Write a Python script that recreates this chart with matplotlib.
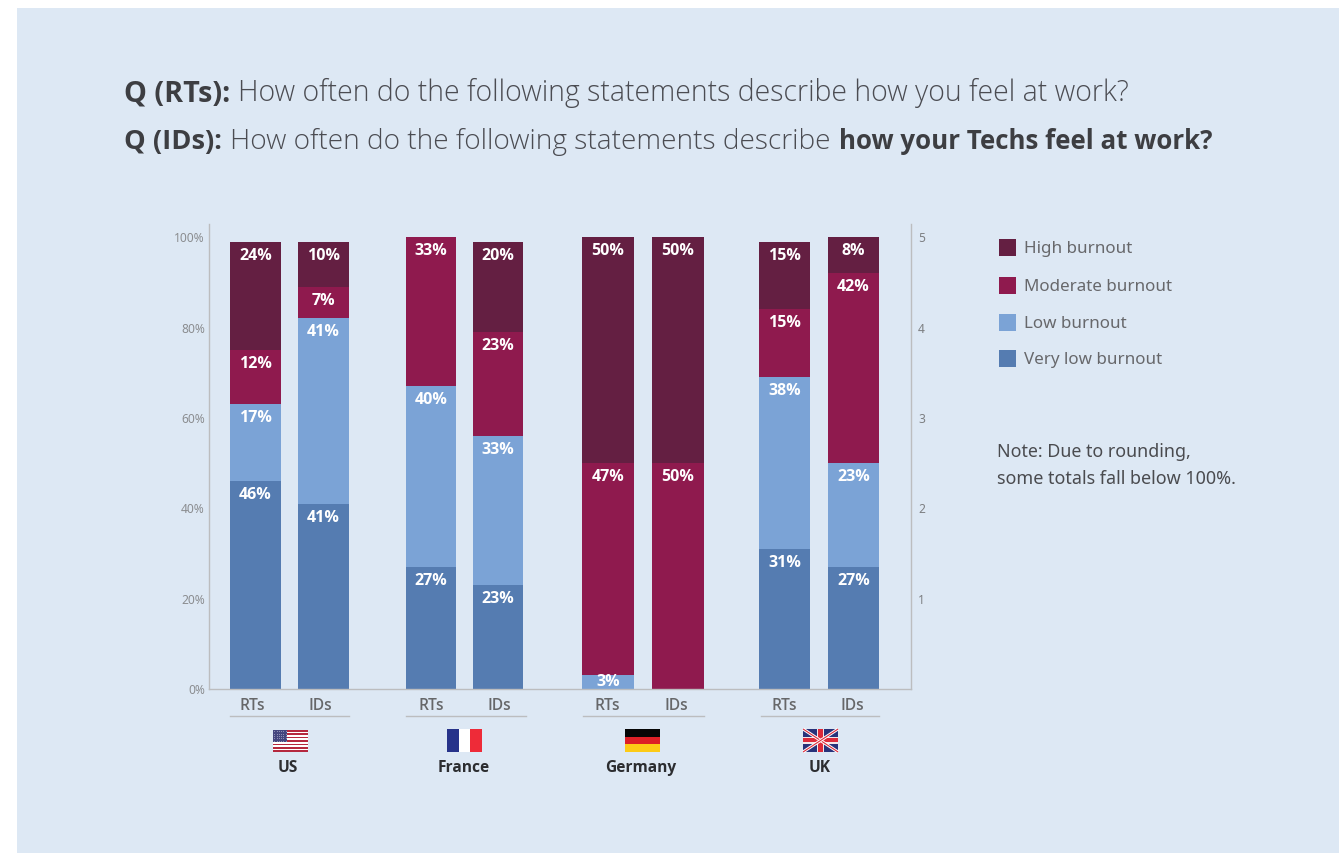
import matplotlib
matplotlib.use("Agg")
import matplotlib.pyplot as plt
from matplotlib.patches import Rectangle

# **********************************************************************
#       DATA
countries = ["US", "France", "Germany", "UK"]
respondents = ["RTs", "IDs"]
levels = ["Very low burnout", "Low burnout", "Moderate burnout", "High burnout"]

very_low_rts = [46, 27, 0, 31]
low_rts = [17, 40, 3, 38]
moderate_rts = [12, 33, 47, 15]
high_rts = [24, 0, 50, 15]

very_low_ids = [41, 23, 0, 27]
low_ids = [41, 33, 0, 23]
moderate_ids = [7, 23, 50, 42]
high_ids = [10, 20, 50, 8]

left_ticks = [0, 20, 40, 60, 80, 100]
right_ticks = [1, 2, 3, 4, 5]

# **********************************************************************
#       PLOTTING ATTRIBUTES
WIDTH, HEIGHT = 1339, 853
panel_color = "#dde8f4"
axis_color = "#bcbdbf"
level_colors = ["#557cb1", "#7ba3d6", "#8f1a4e", "#641f42"]

# bar centres and widths along the x axis, which runs in pixels
rts_x = [255.5, 431, 608, 784.5]
ids_x = [323.5, 498, 678, 853.5]
bar_w = [51, 50, 52, 51]
group_lines = [(230, 349), (406, 526), (583, 704), (761, 879)]
rts_label_x = [252, 431, 607, 784]
ids_label_x = [320, 499, 676, 852]
flag_x = [273, 447, 625, 803]
country_x = [288, 464, 641, 820]
legend_y = [247.5, 285.5, 322.5, 358.5]

font_title = "Open Sans"
font_text = "Noto Sans"


def px(size):
    # font size in points from a height in pixels at 100 dpi
    return size * 0.72


fig = plt.figure(figsize=((WIDTH + 0.1) / 100, (HEIGHT + 0.1) / 100), dpi=100, facecolor="white")

# full figure layer with y pointing down, for everything outside the plot
bg = fig.add_axes([0, 0, 1, 1])
bg.set_xlim(0, WIDTH)
bg.set_ylim(HEIGHT, 0)
bg.axis("off")
bg.add_patch(Rectangle((17, 8), WIDTH - 17, HEIGHT - 8, color=panel_color, lw=0))

ax = fig.add_axes([209 / WIDTH, (HEIGHT - 689) / HEIGHT, 702 / WIDTH, 465 / HEIGHT])
ax.patch.set_alpha(0)
ax.set_xlim(209, 911)
ax.set_ylim(0, 102.9)

ax.spines["top"].set_visible(False)
for spine in ["left", "right", "bottom"]:
    ax.spines[spine].set_color(axis_color)
    ax.spines[spine].set_linewidth(1.0)

ax.set_xticks([])
ax.set_yticks(left_ticks)
ax.set_yticklabels([str(t) + "%" for t in left_ticks], fontsize=px(12),
                   color="#8b8d90", family=font_text)
ax.tick_params(axis="y", length=0, pad=3)

ax2 = ax.twinx()
ax2.set_ylim(0, 102.9 / 20)
ax2.set_yticks(right_ticks)
ax2.set_yticklabels([str(t) for t in right_ticks], fontsize=px(12),
                    color="#7d7f82", family=font_text)
ax2.tick_params(axis="y", length=0, pad=5)
for spine in ax2.spines.values():
    spine.set_visible(False)


def draw_stack(xs, stacks):
    bottom = [0] * len(xs)
    for k, values in enumerate(stacks):
        ax.bar(xs, values, width=bar_w, bottom=bottom, color=level_colors[k], lw=0)
        for i, v in enumerate(values):
            if v == 0:
                continue
            # thin segments get the label centred, others hang below the top edge
            if v < 5:
                ax.text(xs[i], bottom[i] + v / 2, str(v) + "%", color="white",
                        fontsize=px(16), weight="bold", family=font_title,
                        ha="center", va="center")
            else:
                ax.annotate(str(v) + "%", (xs[i], bottom[i] + v), xytext=(0, -px(14)),
                            textcoords="offset points", color="white",
                            fontsize=px(16), weight="bold", family=font_title,
                            ha="center", va="center")
            bottom[i] += v


draw_stack(rts_x, [very_low_rts, low_rts, moderate_rts, high_rts])
draw_stack(ids_x, [very_low_ids, low_ids, moderate_ids, high_ids])

# **********************************************************************
#       TITLE, bold and light runs placed one after the other
dark = "#3d3e42"
light = "#4b4c52"
title_runs = [
    (124, 101, "Q (RTs):", "bold", 28.7, dark),
    (238, 101, "How often do the following statements describe how you feel at work?", "light", 28.5, light),
    (124, 149, "Q (IDs):", "bold", 27.3, dark),
    (230, 149, "How often do the following statements describe", "light", 28.05, light),
    (839, 149, "how your Techs feel at work?", "bold", 25.85, dark),
]
for x, y, string, weight, size, color in title_runs:
    bg.text(x, y, string, fontsize=px(size), family=font_title, weight=weight,
            color=color, ha="left", va="baseline")

# **********************************************************************
#       GROUP LABELS AND FLAGS
for i in range(len(countries)):
    bg.text(rts_label_x[i], 705.5, respondents[0], fontsize=px(15.5), color="#666769",
            weight="semibold", family=font_title, ha="center", va="center")
    bg.text(ids_label_x[i], 705.5, respondents[1], fontsize=px(15.5), color="#666769",
            weight="semibold", family=font_title, ha="center", va="center")
    bg.plot(group_lines[i], [716, 716], color=axis_color, lw=1.0)
    bg.text(country_x[i], 768, countries[i], fontsize=px(15.5), color="#2c2d30",
            weight="bold", family=font_title, ha="center", va="center")


def flag_us(x, y, w=35, h=22):
    bg.add_patch(Rectangle((x, y), w, h, color="white", lw=0))
    for s in range(0, 13, 2):
        bg.add_patch(Rectangle((x, y + s * h / 13), w, h / 13, color="#b5283e", lw=0))
    bg.add_patch(Rectangle((x, y), 14, 12, color="#44467f", lw=0))
    for r in range(5):
        for c in range(6):
            bg.plot(x + 1.2 + c * 2.3, y + 1.5 + r * 2.3, "s", ms=0.7, color="#8f90b5", mew=0)


def flag_fr(x, y, w=35, h=23):
    bg.add_patch(Rectangle((x, y), w / 3, h, color="#27338a", lw=0))
    bg.add_patch(Rectangle((x + w / 3, y), w / 3, h, color="white", lw=0))
    bg.add_patch(Rectangle((x + 2 * w / 3, y), w / 3, h, color="#ee2b38", lw=0))


def flag_de(x, y, w=35, h=23):
    for s, c in enumerate(["#050505", "#dd1f26", "#fdcb16"]):
        bg.add_patch(Rectangle((x, y + s * h / 3), w, h / 3, color=c, lw=0))


def flag_uk(x, y, w=35, h=23):
    box = Rectangle((x, y), w, h, color="#28327a", lw=0)
    bg.add_patch(box)
    for ends in [([x, x + w], [y, y + h]), ([x, x + w], [y + h, y])]:
        bg.plot(ends[0], ends[1], color="white", lw=2.2, clip_path=box, solid_capstyle="butt")
        bg.plot(ends[0], ends[1], color="#dd2a3a", lw=0.8, clip_path=box, solid_capstyle="butt")
    bg.add_patch(Rectangle((x + w / 2 - 3.5, y), 7, h, color="#f3e6e8", lw=0))
    bg.add_patch(Rectangle((x, y + h / 2 - 3.5), w, 7, color="#f3e6e8", lw=0))
    bg.add_patch(Rectangle((x + w / 2 - 2.5, y), 5, h, color="#dd2a3a", lw=0))
    bg.add_patch(Rectangle((x, y + h / 2 - 2), w, 4, color="#dd2a3a", lw=0))


flag_us(flag_x[0], 730)
flag_fr(flag_x[1], 729)
flag_de(flag_x[2], 729)
flag_uk(flag_x[3], 729)

# **********************************************************************
#       LEGEND AND NOTE
for y, name, col in zip(legend_y, levels[::-1], level_colors[::-1]):
    bg.add_patch(Rectangle((999, y - 8.5), 17, 17, color=col, lw=0))
    bg.text(1024, y + 1, name, fontsize=px(17), color="#67686b", family=font_text,
            ha="left", va="center")

bg.text(997, 452, "Note: Due to rounding,", fontsize=px(17.9), color="#4a4b4f",
        family=font_text, ha="left", va="center")
bg.text(997, 479, "some totals fall below 100%.", fontsize=px(18), color="#4a4b4f",
        family=font_text, ha="left", va="center")

bg.set_xlim(0, WIDTH)
bg.set_ylim(HEIGHT, 0)

fig.savefig("out.png", dpi=100)
